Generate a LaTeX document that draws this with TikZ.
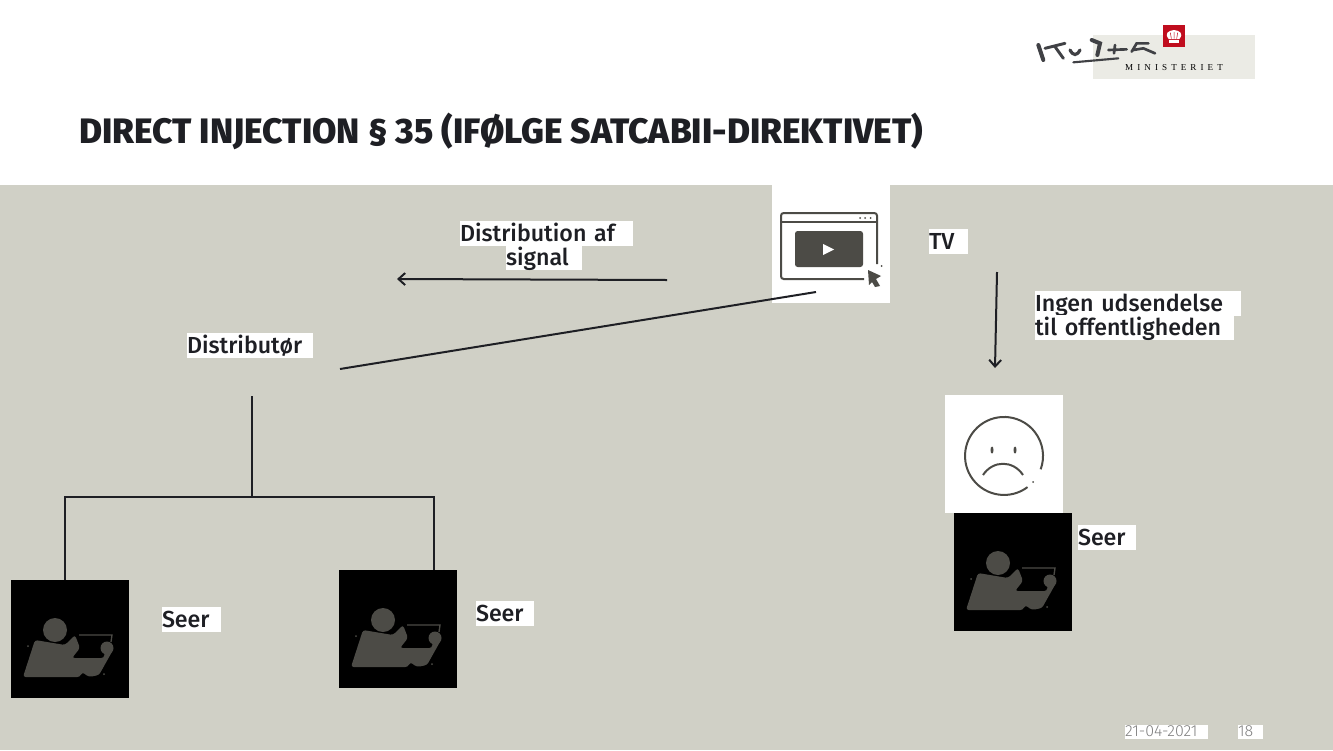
\documentclass[tikz,border=0pt]{standalone}
\usepackage{xcolor}
\usepackage{fontspec}
\usepackage{tikz}
\usetikzlibrary{arrows,arrows.meta,positioning,shapes}
\usetikzlibrary{calc}
\setmainfont{Fira Sans Medium}
\newfontfamily\logofont[LetterSpace=45]{Liberation Serif}
\newfontfamily\titlefont{Fira Sans ExtraBold}
\newfontfamily\footfont{Fira Sans Light}
\definecolor{panelgrey}{HTML}{D0D0C6}
\definecolor{inkgrey}{HTML}{4C4B46}
\definecolor{logobeige}{HTML}{EBEBE5}
\definecolor{logored}{HTML}{C00D1E}
\definecolor{textblack}{HTML}{1E1F24}

\begin{document}
\begin{tikzpicture}[x=.75pt,y=-.75pt,
  every node/.style={inner sep=0pt,outer sep=0pt},
  label/.style={fill=white,text=textblack,anchor=north west,align=left,font=\fontsize{17.4}{20}\selectfont,text height=15pt,text depth=3.75pt,inner sep=0pt},
  iconbox/.style={fill=white,anchor=north west,minimum size=88.5pt},
  seerbox/.style={fill=black,anchor=north west,minimum size=88.5pt},
  small/.style={fill=white,text=gray,anchor=north west,align=left,font=\footfont\fontsize{12}{12}\selectfont,text height=8.5pt,text depth=2pt},
  to/.style={-{Straight Barb[length=5pt,width=9pt]},draw=textblack,line width=1.5pt},
  link/.style={draw=textblack,line width=1.5pt},
  seericon/.pic={
    \fill[inkgrey] (44,50) circle (12);
    \fill[inkgrey,rounded corners=2pt] (12,97) -- (24,60) -- (54,65) -- (64,55) -- (69,68) -- (61,78)
      -- (93,78) -- (94,68) -- (102,70) -- (88,95) -- (78,97) -- (71,92) -- (69,97) -- cycle;
    \fill[inkgrey] (96,68) circle (6.5);
    \draw[inkgrey,line width=1pt] (68,55) -- (101,55) -- (100,62);
    \fill[inkgrey] (17,66) circle (1) (93,94) circle (1);
  },
  videoicon/.pic={
    \draw[inkgrey,line width=1.5pt,rounded corners=2pt] (105,79) -- (105,28) -- (9,28) -- (9,94) -- (92,94);
    \draw[inkgrey,line width=1.2pt] (9,37) -- (105,37);
    \fill[inkgrey,rounded corners=2pt] (23,46) rectangle (91,82);
    \fill[white] (51,59) -- (62,64.5) -- (51,70) -- cycle;
    \fill[inkgrey] (88,33) circle (1) (93,33) circle (1) (98.5,33) circle (1) (109.7,81) circle (1);
    \fill[inkgrey] (96,85) -- (109,91) -- (104,94) -- (108,101) -- (103,102) -- (100,97) -- (97,100) -- cycle;
  },
  sadicon/.pic={
    \draw[inkgrey,line width=1.5pt] (82.5,92.1) arc[start angle=53,end angle=380,x radius=39,y radius=39];
    \fill[inkgrey] (88,87) circle (1);
    \fill[inkgrey] (47,55) ellipse (1.5 and 3.5) (70,55) ellipse (1.5 and 3.5);
    \draw[inkgrey,line width=1.5pt] (38,80) .. controls (48,65) and (68,65) .. (78,80);
  }]

    \fill[white] (0,0) rectangle (1333,750);
    \fill[panelgrey] (0,185) rectangle (1333,750);

    \fill[logobeige] (1093,35) rectangle (1255,79);
    \fill[logored] (1163,25) rectangle (1185,47);
    \begin{scope}[shift={(1020,10)},scale=1/3]
      \fill[white] (446,90) rectangle (478,98);
      \fill[white] (446,87) .. controls (432,70) and (445,62) .. (462,60) .. controls (479,62) and (492,70) .. (478,87) -- cycle;
      \draw[logored,line width=.4pt] (454,86) -- (451,68) (462,86) -- (462,66) (470,86) -- (473,68);
      \draw[textblack!85,line width=3pt,line cap=round] (55,105) -- (70,150);
      \draw[textblack!85,line width=2.2pt,line cap=round] (75,115) -- (135,100) (105,110) -- (130,145);
      \draw[textblack!85,line width=2.4pt,line cap=round] (150,120) .. controls (160,138) and (170,138) .. (180,120);
      \draw[textblack!85,line width=1.6pt,line cap=round] (160,157) -- (295,145);
      \draw[textblack!85,line width=3pt,line cap=round] (215,90) -- (240,100) -- (232,135);
      \draw[textblack!85,line width=2pt,line cap=round] (265,120) -- (320,118) (285,105) -- (282,130);
      \draw[textblack!85,line width=2pt,line cap=round] (335,125) -- (350,100) -- (385,100) (340,120) -- (370,115) -- (405,130);
    \end{scope}
    \node[font=\logofont\fontsize{6.8}{7}\selectfont,text=black] (logotext) at (1174,68) {MINISTERIET};

    \node[anchor=west,text=textblack,font=\titlefont\fontsize{26.5}{30}\selectfont] (title) at (79,131) {DIRECT INJECTION § 35 (IFØLGE SATCABII-DIREKTIVET)};

    \node[iconbox] (video) at (772,185) {};
    \node[iconbox] (sad) at (945,395) {};
    \node[seerbox] (seerA) at (11,580) {};
    \node[seerbox] (seerB) at (339,570) {};
    \node[seerbox] (seerC) at (954,513) {};
    \pic at (video.north west) {videoicon};
    \pic at (sad.north west) {sadicon};
    \pic at (seerA.north west) {seericon};
    \pic at (seerB.north west) {seericon};
    \pic at (seerC.north west) {seericon};

    \node[label,text width=129.75pt] (distline) at (460,221) {Distribution af};
    \node[label,text width=57pt] (signalline) at (506,245) {signal};
    \node[label,text width=29pt] (tv) at (929,229) {TV};
    \node[label,text width=154.5pt] (ingenline) at (1035,291) {Ingen udsendelse};
    \node[label,text width=149pt] (tilline) at (1035,315) {til offentligheden};
    \node[label,text width=94.5pt] (distributor) at (187,333) {Distributør};
    \node[label,text width=44.25pt] (seerlabelA) at (162,607) {Seer};
    \node[label,text width=43.5pt] (seerlabelB) at (476,601) {Seer};
    \node[label,text width=43.5pt] (seerlabelC) at (1078,525) {Seer};
    \node[small,text width=62pt] (date) at (1125,725) {21-04-2021};
    \node[small,text width=19pt] (page) at (1238,725) {18};

    \coordinate (signalstart) at (667,280);
    \coordinate (signalend) at (397,279);
    \coordinate (videoout) at (816,292);
    \coordinate (distin) at (340,369);
    \coordinate (tvout) at (997,272);
    \coordinate (sadin) at (995,368);
    \coordinate (distout) at (252,396);
    \coordinate (treehub) at (252,497);
    \coordinate (seerAin) at (65,580);
    \coordinate (seerBin) at (434,570);

    \draw[to](signalstart) -- (signalend);
    \draw[link](videoout) -- (distin);
    \draw[to](tvout) -- (sadin);
    \draw[link](distout) -- (treehub);
    \draw[link](seerAin) |- (treehub) -| (seerBin);
\end{tikzpicture}
\end{document}
